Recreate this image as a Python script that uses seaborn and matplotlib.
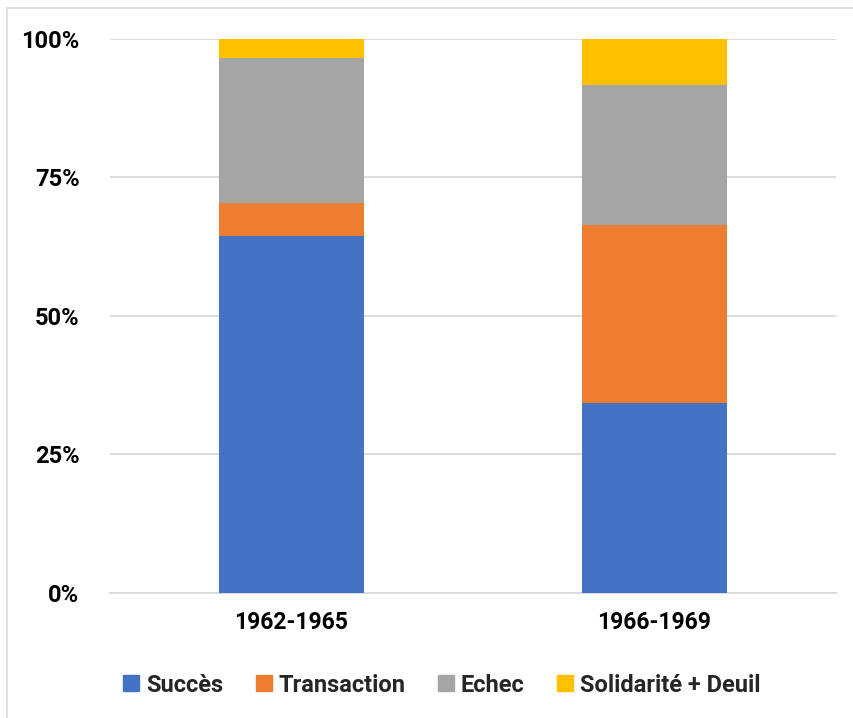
import matplotlib
matplotlib.use("Agg")
import matplotlib.pyplot as plt
import seaborn as sns
import pandas as pd
import numpy as np
from matplotlib.lines import Line2D
from matplotlib.patches import Rectangle
from matplotlib.ticker import FuncFormatter

periods = ["1962-1965", "1966-1969"]
categories = ["Succès", "Transaction", "Echec", "Solidarité + Deuil"]
succes = [64.4, 34.2]
transaction = [5.9, 32.1]
echec = [26.1, 25.4]
solidarite = [3.6, 8.3]
colors = ["#4472C4", "#ED7D31", "#A5A5A5", "#FFC000"]

sns.set_theme(style="white")
plt.rcParams["font.family"] = ["Roboto", "DejaVu Sans"]
plt.rcParams["font.weight"] = "bold"

series = [succes, transaction, echec, solidarite]
df = pd.DataFrame({"period": periods})
for name, vals in zip(categories, series):
    df[name] = np.array(vals) / 100.0
cum = df[categories].cumsum(axis=1)

fig = plt.figure(figsize=(8.54, 7.18), dpi=100)
ax = fig.add_axes([110 / 854, 1 - 593 / 718, 726 / 854, (593 - 38.5) / 718])

# stacked bars: draw cumulative totals from the top segment down
for name, color in reversed(list(zip(categories, colors))):
    sns.barplot(x=df["period"], y=cum[name], color=color, width=0.4,
                saturation=1, ax=ax, zorder=3, linewidth=0)

ax.set_xlim(-0.5, 1.5)
ax.set_ylim(0, 1)
ax.set_yticks([0, 0.25, 0.5, 0.75, 1.0])
ax.yaxis.set_major_formatter(FuncFormatter(lambda v, p: f"{int(round(v * 100))}%"))
ax.grid(axis="y", color="#D9D9D9", linewidth=1.3, zorder=0)
ax.set_axisbelow(True)
for s in ["top", "right", "left"]:
    ax.spines[s].set_visible(False)
ax.spines["bottom"].set_color("#D9D9D9")
ax.spines["bottom"].set_linewidth(1.3)
ax.tick_params(axis="x", length=0, labelsize=16.5, colors="black", pad=13)
ax.tick_params(axis="y", length=0, labelsize=17, colors="black", pad=22)
for lab in ax.get_xticklabels() + ax.get_yticklabels():
    lab.set_fontweight("bold")
ax.set_xlabel("")
ax.set_ylabel("")

handles = [Line2D([0], [0], marker="s", linestyle="", markersize=11.5,
                  markerfacecolor=c, markeredgecolor=c) for c in colors]
fig.legend(handles, categories, loc="center", ncol=4,
           bbox_to_anchor=(442 / 854, 1 - 685 / 718), frameon=False,
           prop={"size": 17, "weight": "bold"}, handlelength=0.65,
           handletextpad=0.3, columnspacing=1.4)

# light frame around the chart area (its right and bottom edges run past the image)
fig.add_artist(Rectangle((7 / 854, -0.05), 1.05, 1 - 8 / 718 + 0.05,
                         transform=fig.transFigure, fill=False,
                         edgecolor="#D9D9D9", linewidth=1.2))

fig.savefig("out.png", dpi=100, facecolor="white")
